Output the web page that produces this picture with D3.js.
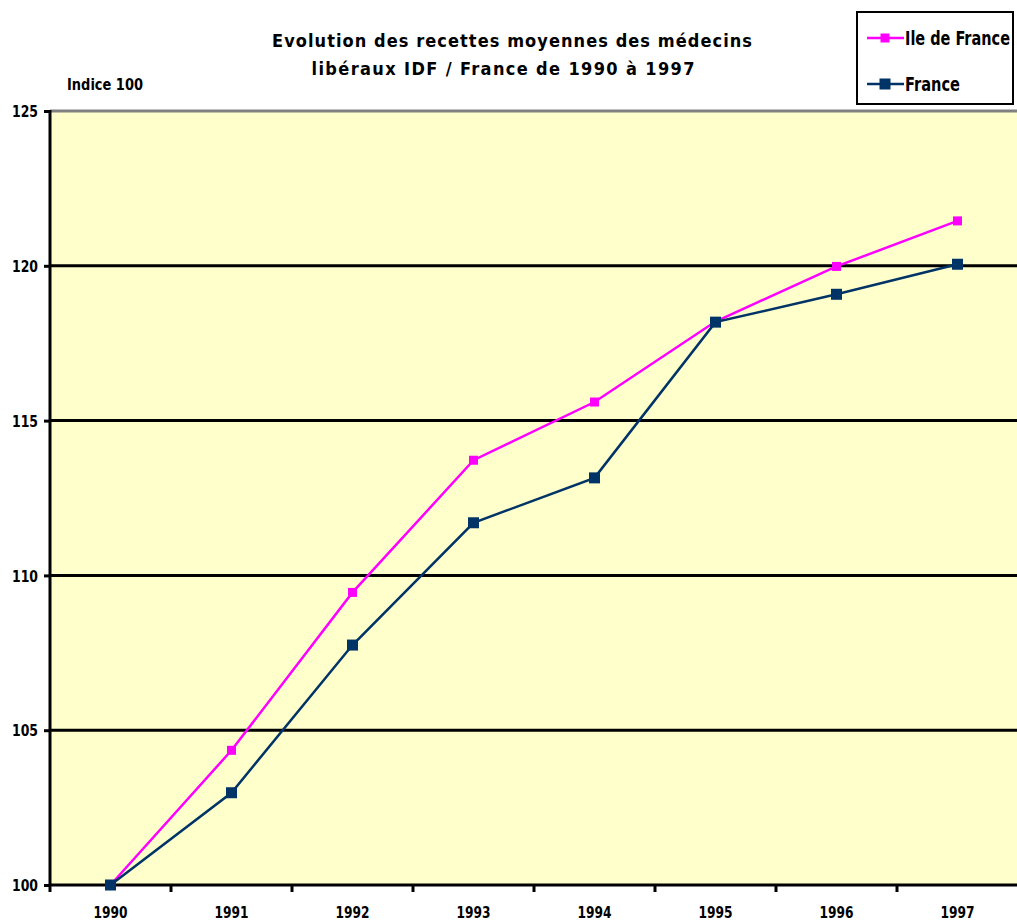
<!DOCTYPE html>
<html><head><meta charset="utf-8">
<script src="https://cdn.jsdelivr.net/npm/d3@7"></script>
<style>
html,body{margin:0;padding:0;background:#fff;}
svg{display:block;}
text{font-family:"DejaVu Sans Condensed","DejaVu Sans",sans-serif;font-stretch:condensed;font-weight:bold;fill:#000;}
</style></head><body>
<svg id="c" width="1017" height="924"></svg>
<script>
const years = ["1990","1991","1992","1993","1994","1995","1996","1997"];
const idf = [100, 104.35, 109.45, 113.72, 115.6, 118.2, 119.98, 121.45];
const france = [100, 102.98, 107.75, 111.7, 113.15, 118.18, 119.08, 120.05];
const yTicks = [100, 105, 110, 115, 120, 125];
const titleLines = ["Evolution des recettes moyennes des médecins", "libéraux IDF / France de 1990 à 1997"];
const seriesNames = ["Ile de France", "France"];
const colors = ["#FF00FF", "#003366"];

const svg = d3.select("#c");
const L = 50, R = 1018, T = 111, B = 885;
const x = d3.scaleBand().domain(years).range([L, R]).padding(0);
const y = d3.scaleLinear().domain([100, 125]).range([B, T]);

svg.append("rect").attr("x", L).attr("y", T).attr("width", R - L).attr("height", B - T).attr("fill", "#FFFFCC");
svg.append("line").attr("x1", L).attr("x2", R).attr("y1", T).attr("y2", T).attr("stroke", "#808080").attr("stroke-width", 3);

svg.selectAll("line.grid").data(yTicks.filter(v => v > 100 && v < 125)).enter().append("line")
  .attr("class", "grid").attr("x1", L).attr("x2", R)
  .attr("y1", d => y(d)).attr("y2", d => y(d)).attr("stroke", "#000").attr("stroke-width", 3);

const yAxis = d3.axisLeft(y).tickValues(yTicks).tickSize(6).tickFormat(d3.format("d"));
const gy = svg.append("g").attr("transform", `translate(${L},0)`).call(yAxis);
gy.attr("font-family", null).attr("font-size", null);
gy.select(".domain").attr("stroke", "#000").attr("stroke-width", 3).attr("d", `M0,${T - 1}V${B}`);
gy.selectAll(".tick line").attr("stroke", "#000").attr("stroke-width", 3);
gy.selectAll(".tick text").attr("x", -12).attr("dy", "0.36em").style("font-size", "16px")
  .attr("textLength", 26).attr("lengthAdjust", "spacingAndGlyphs");

const xAxis = d3.axisBottom(x).tickSize(0).tickFormat(d => d);
const gx = svg.append("g").attr("transform", `translate(0,${B})`).call(xAxis);
gx.attr("font-family", null).attr("font-size", null);
gx.select(".domain").attr("stroke", "#000").attr("stroke-width", 3).attr("d", `M${L - 1},0H${R}`);
gx.selectAll(".tick text").attr("y", 22).style("font-size", "16px")
  .attr("textLength", 34).attr("lengthAdjust", "spacingAndGlyphs");
svg.selectAll("line.xt").data(years).enter().append("line")
  .attr("x1", d => x(d)).attr("x2", d => x(d)).attr("y1", B).attr("y2", B + 7)
  .attr("stroke", "#000").attr("stroke-width", 3);

const line = d3.line().x((d, i) => x(years[i]) + x.bandwidth() / 2).y(d => y(d));
[idf, france].forEach((s, k) => {
  svg.append("path").datum(s).attr("d", line).attr("fill", "none")
    .attr("stroke", colors[k]).attr("stroke-width", 2.5);
});
[idf, france].forEach((s, k) => {
  const sz = k === 0 ? 9 : 11;
  svg.selectAll(null).data(s).enter().append("rect")
    .attr("x", (d, i) => x(years[i]) + x.bandwidth() / 2 - sz / 2)
    .attr("y", d => y(d) - sz / 2).attr("width", sz).attr("height", sz)
    .attr("fill", colors[k]);
});

titleLines.forEach((t, i) => {
  svg.append("text").attr("x", i === 0 ? 512 : 503).attr("y", 47 + i * 28)
    .attr("text-anchor", "middle").style("font-size", "18px")
    .attr("textLength", i === 0 ? 480 : 383).attr("lengthAdjust", "spacing").text(t);
});

svg.append("text").attr("x", 67).attr("y", 90).style("font-size", "15px")
  .attr("textLength", 76).attr("lengthAdjust", "spacingAndGlyphs").text("Indice 100");

const lg = svg.append("g");
lg.append("rect").attr("x", 857).attr("y", 12).attr("width", 156).attr("height", 92)
  .attr("fill", "#fff").attr("stroke", "#000").attr("stroke-width", 2);
seriesNames.forEach((n, k) => {
  const ly = k === 0 ? 38 : 84;
  lg.append("line").attr("x1", 867).attr("x2", 904).attr("y1", ly).attr("y2", ly)
    .attr("stroke", colors[k]).attr("stroke-width", 2.5);
  const sz = k === 0 ? 9 : 11;
  lg.append("rect").attr("x", 885 - sz / 2).attr("y", ly - sz / 2).attr("width", sz).attr("height", sz).attr("fill", colors[k]);
  lg.append("text").attr("x", 905).attr("y", ly + 7).style("font-size", "19px")
    .attr("textLength", k === 0 ? 105 : 55).attr("lengthAdjust", "spacingAndGlyphs").text(n);
});
</script></body></html>
